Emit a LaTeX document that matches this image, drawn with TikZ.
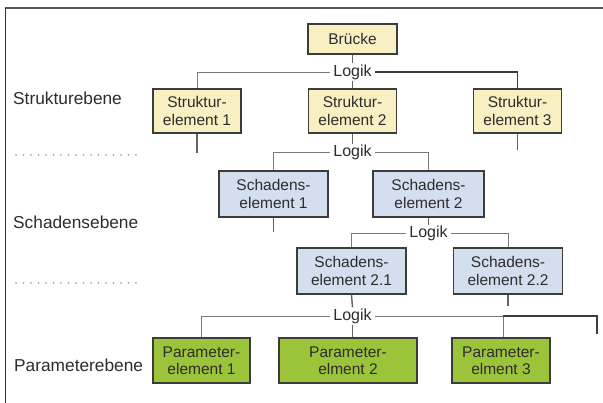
\documentclass[tikz,border=0pt]{standalone}
\usepackage{fontspec}
\setmainfont{Liberation Sans}
\definecolor{txt}{HTML}{2C2C2C}
\definecolor{bord}{HTML}{3C3C38}
\definecolor{strukt}{HTML}{F8EFC2}
\definecolor{schad}{HTML}{D3DFEE}
\definecolor{param}{HTML}{9CC43A}
\definecolor{conn}{HTML}{7A7A7A}
\definecolor{frame}{HTML}{555555}
\tikzset{
  box/.style={draw=bord, line width=1.5pt, text=txt, align=center, inner sep=0pt,
    font=\fontsize{15.5}{17.5}\selectfont},
  sbox/.style={box, fill=strukt, minimum width=88pt, minimum height=44pt},
  dbox/.style={box, fill=schad, minimum width=109pt, minimum height=46pt},
  pbox/.style={box, fill=param, minimum height=45pt},
  logik/.style={text=txt, inner xsep=3pt, inner ysep=1pt, font=\fontsize{16}{18}\selectfont},
  level/.style={text=txt, anchor=west, inner sep=0pt, font=\fontsize{17.3}{19}\selectfont},
  thinl/.style={draw=conn, line width=0.9pt},
  vline/.style={draw=bord!80, line width=1.4pt},
  darkl/.style={draw=bord, line width=1.4pt},
  dotline/.style={draw=gray!70, line width=2pt, line cap=round, dash pattern=on 0pt off 7.5pt}
}
\begin{document}
\begin{tikzpicture}[x=1pt,y=-1pt]
\useasboundingbox (0,0) rectangle (603,403);
% frame
\draw[frame, line width=2pt] (5,8) -- (603,8);
\draw[black!80, line width=1pt] (5,8) -- (5,403);
% dotted separators
\draw[dotline] (16,155) -- (143,155);
\draw[dotline] (16,283) -- (143,283);
% level labels
\node[level] (lvs) at (13,98) {Strukturebene};
\node[level] (lvd) at (13,222) {Schadensebene};
\node[level] (lvp) at (14,365) {Parameterebene};
% boxes
\node[box, fill=strukt, minimum width=89pt, minimum height=30pt] (br) at (352.5,39) {Brücke};
\node[sbox] (s1) at (197,111) {Struktur-\\element 1};
\node[sbox] (s2) at (352.5,111) {Struktur-\\element 2};
\node[sbox] (s3) at (517.5,111) {Struktur-\\element 3};
\node[dbox] (d1) at (273.5,194) {Schadens-\\element 1};
\node[dbox, minimum width=111pt] (d2) at (428.5,194) {Schadens-\\element 2};
\node[dbox] (d21) at (351.5,271) {Schadens-\\element 2.1};
\node[dbox] (d22) at (508,271) {Schadens-\\element 2.2};
\node[pbox, minimum width=97pt] (p1) at (201.5,360.5) {Parameter-\\element 1};
\node[pbox, minimum width=138pt] (p2) at (348,360.5) {Parameter-\\elment 2};
\node[pbox, minimum width=98pt] (p3) at (501,360.5) {Parameter-\\elment 3};
% logik nodes
\node[logik] (l1) at (352.5,72) {Logik};
\node[logik] (l2) at (352.5,152.5) {Logik};
\node[logik] (l3) at (428.5,233.5) {Logik};
\node[logik] (l4) at (352.5,316) {Logik};
% free ends
\coordinate (e1) at (197,153);
\coordinate (e3) at (517.5,150);
\coordinate (ed1) at (273.5,232);
\coordinate (ed22) at (508,306);
\coordinate (ep) at (597,334);
\coordinate (jp) at (503,316);
% connectors level 1
\draw[vline] (br.south) -- (l1.north);
\draw[vline] (l1.south) -- (s2.north);
\draw[thinl] (l1.west) -| (s1.north);
\draw[darkl] (l1.east) -| (s3.north);
\draw[vline] (s1.south) -- (e1);
\draw[vline] (s3.south) -- (e3);
% level 2
\draw[vline] (s2.south) -- (l2.north);
\draw[thinl] (l2.west) -| (d1.north);
\draw[thinl] (l2.east) -| (d2.north);
\draw[vline] (d1.south) -- (ed1);
% level 3
\draw[vline] (d2.south) -- (l3.north);
\draw[thinl] (l3.west) -| (d21.north);
\draw[thinl] (l3.east) -| (d22.north);
% level 4
\draw[vline] (d21.south) -- (l4.north);
\draw[vline] (d22.south) -- (ed22);
\draw[thinl] (l4.west) -| (p1.north);
\draw[vline] (l4.south) -- (l4.south |- p2.north);
\draw[thinl] (l4.east) -- (jp);
\draw[thinl] (jp) -- (jp |- p3.north);
\draw[darkl] (jp) -| (ep);
\end{tikzpicture}
\end{document}
